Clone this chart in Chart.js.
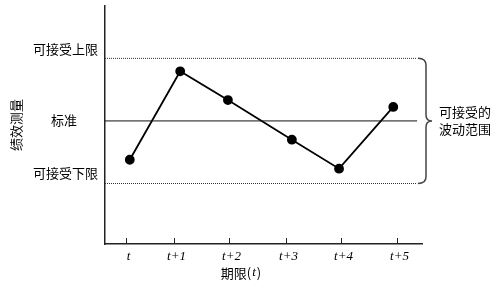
<!DOCTYPE html>
<html><head><meta charset="utf-8">
<script src="https://cdn.jsdelivr.net/npm/chart.js@4/dist/chart.umd.min.js"></script>
<style>html,body{margin:0;padding:0;background:#fff}#wrap{width:497px;height:287px}</style>
</head><body><div id="wrap"><canvas id="c" width="497" height="287"></canvas></div>
<script>
const categories = ['t','t+1','t+2','t+3','t+4','t+5'];
const tickPositions = [0, 0.886, 1.9, 2.95, 3.97, 5];
const pointPositions = [0.07, 1.0, 1.88, 3.06, 3.93, 4.93];
const performance = [-1.86, 2.38, 1.0, -0.9, -2.29, 0.67];
const upperLimit = 3;
const standardLevel = 0;
const lowerLimit = -3;
const limitLabels = ['可接受上限','标准','可接受下限'];
const braceLabel = ['可接受的','波动范围'];
const yTitle = '绩效测量';
const xTitle = ['期限(', 't', ')'];

const X_MIN = -0.387, X_MAX = 5.46, LINE_END = 5.37;
const CJK = '"Noto Sans CJK SC", sans-serif';

const decor = {
  id: 'decor',
  afterDraw(chart) {
    const ctx = chart.ctx, x = chart.scales.x, y = chart.scales.y;
    ctx.save();
    ctx.strokeStyle = '#222'; ctx.lineWidth = 1;
    ctx.fillStyle = '#000';
    ctx.font = 'italic 13px "Liberation Serif", serif';
    ctx.textAlign = 'center'; ctx.textBaseline = 'middle';
    tickPositions.forEach((v, i) => {
      const px = Math.round(x.getPixelForValue(v)) + 0.5;
      ctx.beginPath(); ctx.moveTo(px, y.bottom); ctx.lineTo(px, y.bottom - 6); ctx.stroke();
      ctx.fillText(categories[i], px + 2, y.bottom + 13);
    });
    ctx.font = '13px ' + CJK;
    ctx.textAlign = 'right';
    ctx.fillText(limitLabels[0], 98, y.getPixelForValue(upperLimit) - 9);
    ctx.fillText(limitLabels[2], 98, y.getPixelForValue(lowerLimit) - 10);
    ctx.textAlign = 'center';
    ctx.fillText(limitLabels[1], 64, y.getPixelForValue(standardLevel) - 1);
    ctx.save();
    ctx.translate(16, 125);
    ctx.rotate(-Math.PI / 2);
    ctx.textAlign = 'center';
    ctx.fillText(yTitle, 0, 0);
    ctx.restore();
    ctx.textAlign = 'left';
    const f1 = '13px ' + CJK, f2 = 'italic 13px "Liberation Serif", serif';
    ctx.font = f1; const w1 = ctx.measureText(xTitle[0]).width;
    ctx.font = f2; const w2 = ctx.measureText(xTitle[1]).width + 2;
    ctx.font = f1; const w3 = ctx.measureText(xTitle[2]).width;
    let sx = 241 - (w1 + w2 + w3) / 2, ty = 273;
    ctx.font = f1; ctx.fillText(xTitle[0], sx, ty);
    ctx.font = f2; ctx.fillText(xTitle[1], sx + w1 + 1, ty);
    ctx.font = f1; ctx.fillText(xTitle[2], sx + w1 + w2, ty);
    const yt = y.getPixelForValue(upperLimit), yb = y.getPixelForValue(lowerLimit), ym = y.getPixelForValue(standardLevel);
    const bx = 426, lx = 418, tip = 432;
    ctx.strokeStyle = '#444'; ctx.lineWidth = 1.5;
    ctx.beginPath();
    ctx.moveTo(lx, yt);
    ctx.quadraticCurveTo(bx, yt, bx, yt + 7);
    ctx.lineTo(bx, ym - 6);
    ctx.quadraticCurveTo(bx, ym, tip, ym);
    ctx.quadraticCurveTo(bx, ym, bx, ym + 6);
    ctx.lineTo(bx, yb - 7);
    ctx.quadraticCurveTo(bx, yb, lx, yb);
    ctx.stroke();
    ctx.font = '13px ' + CJK;
    ctx.textAlign = 'left';
    ctx.fillText(braceLabel[0], 439, ym - 9);
    ctx.fillText(braceLabel[1], 439, ym + 8);
    ctx.restore();
  }
};

new Chart(document.getElementById('c'), {
  type: 'line',
  data: {
    datasets: [
      { data: [{x: X_MIN, y: upperLimit}, {x: LINE_END, y: upperLimit}], borderColor: '#333', borderWidth: 1, borderDash: [1, 1], pointRadius: 0 },
      { data: [{x: X_MIN, y: standardLevel}, {x: LINE_END, y: standardLevel}], borderColor: '#111', borderWidth: 1, pointRadius: 0 },
      { data: [{x: X_MIN, y: lowerLimit}, {x: LINE_END, y: lowerLimit}], borderColor: '#333', borderWidth: 1, borderDash: [1, 1], pointRadius: 0 },
      { data: pointPositions.map((v, i) => ({x: v, y: performance[i]})), borderColor: '#000', borderWidth: 1.8,
        pointRadius: 4, pointBackgroundColor: '#000', pointBorderColor: '#000', tension: 0 }
    ]
  },
  options: {
    responsive: false, animation: false, devicePixelRatio: 1,
    layout: { padding: { left: 105, right: 75, top: 4, bottom: 43 } },
    plugins: { legend: { display: false }, tooltip: { enabled: false } },
    scales: {
      x: {
        type: 'linear', min: X_MIN, max: X_MAX,
        afterFit: s => { s.height = 0; },
        grid: { display: false, drawTicks: false },
        border: { display: true, color: '#222', width: 1.5 },
        ticks: { display: false }
      },
      y: {
        type: 'linear', min: -5.9, max: 5.52,
        afterFit: s => { s.width = 0; },
        grid: { display: false, drawTicks: false },
        border: { display: true, color: '#222', width: 1.5 },
        ticks: { display: false }
      }
    }
  },
  plugins: [decor]
});
</script></body></html>
